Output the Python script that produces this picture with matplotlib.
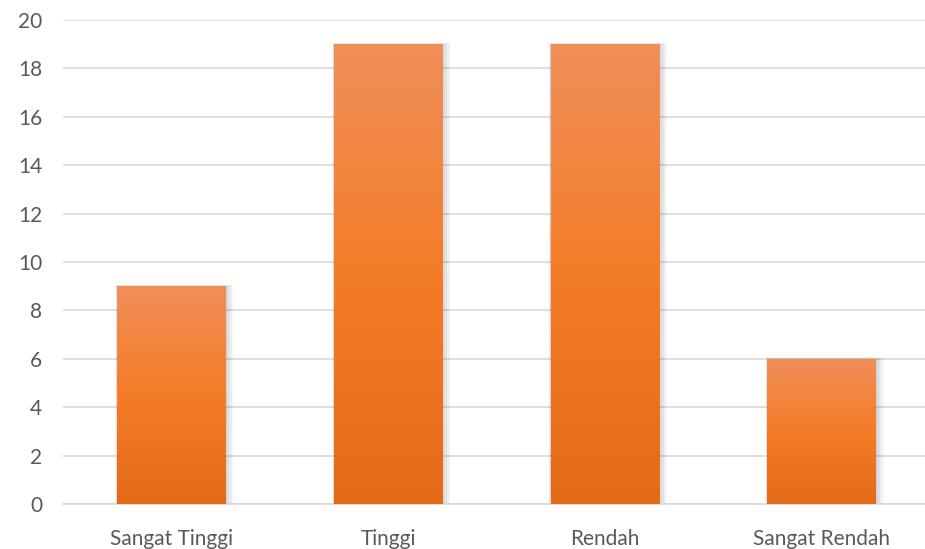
import numpy as np
import matplotlib
matplotlib.use('Agg')
import matplotlib.pyplot as plt
from matplotlib.patches import Rectangle
from matplotlib.colors import LinearSegmentedColormap

# data
kategori = ['Sangat Tinggi', 'Tinggi', 'Rendah', 'Sangat Rendah']
nilai = [9, 19, 19, 6]
yticks = np.arange(0, 21, 2)

plt.rcParams['font.family'] = ['Lato', 'DejaVu Sans']

fig = plt.figure(figsize=(9.25, 5.49), dpi=100)
# plot area (right edge runs past the figure, as in the reference)
ax = fig.add_axes([63 / 925, 45 / 549, 867 / 925, 484 / 549])

x = np.arange(len(kategori))
lebar = 0.5

# gradasi oranye: atas lebih terang, bawah lebih gelap
cmap = LinearSegmentedColormap.from_list('oranye', ['#E46A18', '#F47C27', '#F08F5A'])
grad = np.linspace(0, 1, 256).reshape(-1, 1)

for xi, v in zip(x, nilai):
    # bayangan lembut di sekeliling batang
    for k in range(5):
        dx = 0.004 + k * 0.006
        dy = 0.05 + k * 0.06
        sh = Rectangle((xi - lebar / 2 - dx * 0.3, -dy), lebar + dx * 1.6, v + dy * 1.2,
                       facecolor='black', alpha=0.035, edgecolor='none', zorder=2)
        ax.add_patch(sh)
    rect = Rectangle((xi - lebar / 2, 0), lebar, v, facecolor='none', edgecolor='none', zorder=3)
    ax.add_patch(rect)
    im = ax.imshow(grad, cmap=cmap, aspect='auto', origin='lower',
                   extent=(xi - lebar / 2, xi + lebar / 2, 0, v), zorder=3)
    im.set_clip_path(rect)

ax.set_xlim(-0.5, len(kategori) - 0.5)
ax.set_ylim(0, 20)
ax.set_xticks(x)
ax.set_xticklabels(kategori)
ax.set_yticks(yticks)

ax.grid(axis='y', color='#D9D9D9', linewidth=1.2, zorder=0)
ax.set_axisbelow(True)
for s in ['top', 'right', 'left']:
    ax.spines[s].set_visible(False)
ax.spines['bottom'].set_color('#D9D9D9')
ax.spines['bottom'].set_linewidth(1.2)
ax.tick_params(axis='both', length=0, labelsize=15, colors='#595959')
ax.tick_params(axis='y', pad=15)
ax.tick_params(axis='x', pad=18)

fig.savefig('out.png', dpi=100)
